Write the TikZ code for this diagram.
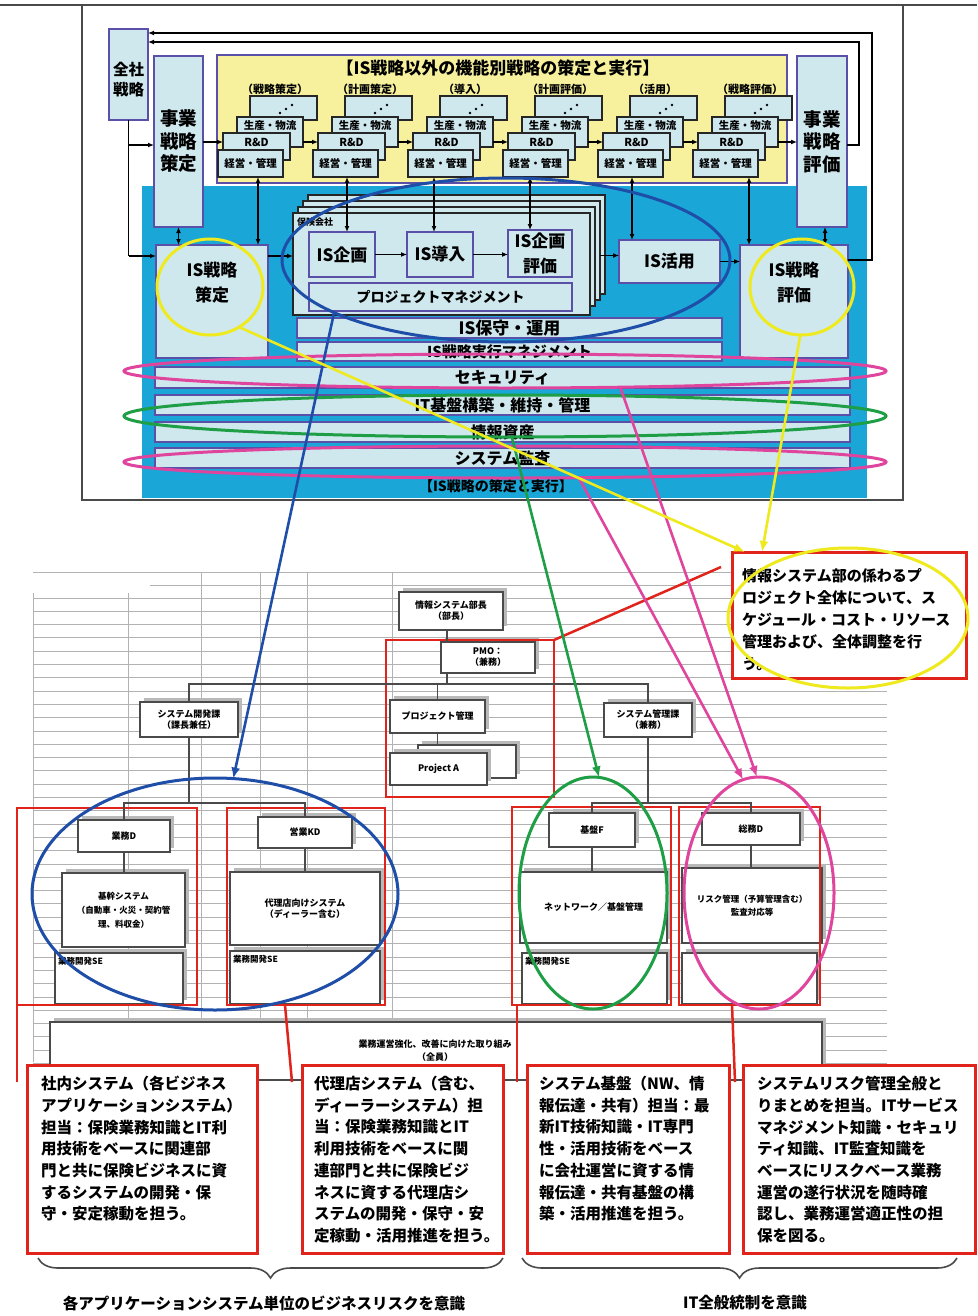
\documentclass[tikz,border=0pt]{standalone}
\usepackage{fontspec}
\setmainfont{Noto Sans CJK JP}
\usetikzlibrary{arrows.meta,shapes.geometric,shadows,decorations.pathreplacing}
\definecolor{lb}{HTML}{CFE8EE}
\definecolor{pu}{HTML}{5B50A8}
\definecolor{ye}{HTML}{F7F19E}
\definecolor{cy}{HTML}{1AA6D6}
\definecolor{bl}{HTML}{1F4EA8}
\definecolor{yl}{HTML}{EEEA1E}
\definecolor{mg}{HTML}{E0459E}
\definecolor{gr}{HTML}{1E9E45}
\definecolor{rd}{HTML}{E0241C}
\definecolor{gd}{HTML}{4A4A4A}
\newcommand{\myfs}[2]{\fontsize{#1}{#2}\selectfont}
\newcommand{\bx}[7]{\node[#1,minimum width={((#5)-(#3))*1pt},minimum height={((#6)-(#4))*1pt}] (#2) at ({((#3)+(#5))/2},{((#4)+(#6))/2}) {#7};}
\tikzset{
 base/.style={rectangle,inner sep=0pt,outer sep=0pt},
 tb/.style={base,fill=lb,draw=pu,line width=1.5pt,font=\bfseries},
 stk/.style={base,fill=lb,draw=black!85,line width=1.6pt},
 card/.style={base,fill=lb,draw=black!85,line width=1.4pt},
 strip/.style={base,fill=lb,draw=pu,line width=1.2pt},
 obox/.style={base,fill=white,draw=gd,line width=1.3pt,align=center,font=\bfseries\myfs{9}{11},drop shadow={shadow xshift=4pt,shadow yshift=4pt,fill=gray!55,opacity=1}},
 rgrp/.style={base,draw=rd,line width=2.5pt},
 tbox/.style={base,fill=white,draw=rd,line width=3pt},
 conn/.style={draw=black,line width=1.6pt},
 arr/.style={conn,-{Latex[length=6pt,width=5pt]}},
 darr/.style={conn,{Latex[length=6pt,width=5pt]}-{Latex[length=6pt,width=5pt]}},
 ell/.style={ellipse,draw,inner sep=0pt,outer sep=0pt,line width=3pt},
 org/.style={draw=gd,line width=1.3pt},
 gridl/.style={draw=gray!60,line width=1pt},
 txt/.style={inner sep=0pt,font=\bfseries},
 carr/.style={line width=2.6pt,-{Latex[length=11pt,width=9pt]}},
 redl/.style={draw=rd,line width=2.5pt}
}
\begin{document}
\begin{tikzpicture}[x=1pt,y=-1pt]
\useasboundingbox (0,0) rectangle (977,1316);
\fill[white] (0,0) rectangle (977,1316);
% ---------- top frame ----------
\draw[gd,line width=2pt] (0,5) -- (977,5);
\bx{base,draw=gd,line width=2.2pt}{frame}{82}{5}{903}{500}{}
\bx{base,fill=cy}{cyanarea}{142}{186}{867}{498}{}
\bx{base,fill=ye,draw=pu,line width=1.2pt}{yelarea}{217}{55}{787}{183}{}
\node[txt,font=\bfseries\myfs{17}{20}] (ytitle) at (498,68) {【IS戦略以外の機能別戦略の策定と実行】};
\bx{tb}{zensha}{109}{29}{148}{120}{}
\node[txt,align=center,font=\bfseries\myfs{15.5}{20}] (zenshat) at (128.5,80) {全社\\戦略};
\bx{tb,align=center,font=\bfseries\myfs{18.5}{22.5}}{jplan}{154}{56}{203}{227}{事業\\戦略\\策定}
\bx{tb,align=center,font=\bfseries\myfs{18.5}{22.5}}{jeval}{797}{56}{847}{227}{事業\\戦略\\評価}
% stacks
\foreach \i/\X/\lab in {1/218/（戦略策定）,2/313/（計画策定）,3/408/（導入）,4/503/（計画評価）,5/598/（活用）,6/693/（戦略評価）}{
  \node[txt,font=\bfseries\myfs{11}{13}] (lab\i) at (\X+57,89) {\lab};
  \bx{stk}{t\i}{\X+32}{96}{\X+99}{120}{}
  \fill (\X+62,113) circle (1.4) (\X+68,109) circle (1.4) (\X+74,105) circle (1.4);
  \bx{stk}{p\i}{\X+19}{117}{\X+85}{147}{}
  \node[txt,font=\bfseries\myfs{10.5}{12}] (pt\i) at (\X+52,126) {生産・物流};
  \bx{stk}{r\i}{\X+5}{133}{\X+72}{160}{}
  \node[txt,font=\bfseries\myfs{11}{12}] (rt\i) at (\X+38.5,142) {R\&D};
  \bx{stk}{k\i}{\X}{150}{\X+65}{177}{}
  \node[txt,font=\bfseries\myfs{10.5}{12}] (kt\i) at (\X+32.5,163) {経営・管理};
}
% project cards
\bx{card}{cardC}{308}{195}{605}{294}{}
\bx{card}{cardB}{303}{201}{600}{300}{}
\bx{card}{cardA}{298}{207}{595}{306}{}
\bx{card}{cardF}{293}{213}{590}{315}{}
\node[txt,anchor=west,font=\bfseries\myfs{9}{10}] (hoken) at (297,222) {保険会社};
\bx{tb,font=\bfseries\myfs{17}{20}}{kikaku}{309}{232}{375}{277}{IS企画}
\bx{tb,font=\bfseries\myfs{17}{20}}{donyu}{407}{232}{473}{277}{IS導入}
\bx{tb,align=center,font=\bfseries\myfs{17}{25}}{hyoka}{508}{230}{572}{277}{IS企画\\評価}
\bx{tb,font=\bfseries\myfs{14}{16}}{pm}{309}{283}{572}{311}{プロジェクトマネジメント}
\bx{tb,font=\bfseries\myfs{17}{20}}{katsuyo}{619}{240}{720}{283}{IS活用}
\bx{tb}{isplan}{156}{245}{268}{358}{}
\node[txt,align=center,font=\bfseries\myfs{17}{25}] (isplant) at (212,283) {IS戦略\\策定};
\bx{tb}{iseval}{740}{245}{848}{358}{}
\node[txt,align=center,font=\bfseries\myfs{17}{25}] (isevalt) at (794,283) {IS戦略\\評価};
% strips
\bx{strip,font=\bfseries\myfs{17}{20}}{hoshu}{297}{318}{722}{338}{IS保守・運用}
\bx{strip,font=\bfseries\myfs{15}{18}}{jikko}{297}{342}{722}{361}{IS戦略実行マネジメント}
\bx{strip,font=\bfseries\myfs{16}{18}}{secu}{155}{367}{850}{388}{セキュリティ}
\bx{strip,font=\bfseries\myfs{16}{18}}{itkiban}{155}{395}{850}{415}{IT基盤構築・維持・管理}
\bx{strip,font=\bfseries\myfs{16}{18}}{shisan}{155}{422}{850}{442}{情報資産}
\bx{strip,font=\bfseries\myfs{16}{18}}{kansa}{155}{448}{850}{468}{システム監査}
\node[txt,font=\bfseries\myfs{14}{16}] (istitle) at (496,486) {【IS戦略の策定と実行】};
% top connectors
\draw[arr] ([yshift=-15pt]iseval.north east) -- ++(24,0) |- ([yshift=-4pt]zensha.north east);
\draw[arr] ([yshift=-89pt]jeval.north east) -- ++(12,0) |- ([yshift=-13pt]zensha.north east);
\coordinate (jin) at ([yshift=-89pt]jplan.north west);
\coordinate (iin) at ([yshift=-11pt]isplan.north west);
\draw[conn] (zensha.south) -- (zensha.south |- iin);
\draw[arr] (zensha.south |- jin) -- (jin);
\draw[arr] (zensha.south |- iin) -- (iin);
\coordinate (r1in) at ([yshift=-9pt]r1.north west);
\draw[arr] (jplan.east |- r1in) -- (r1in);
\foreach \i/\j in {1/2,2/3,3/4,4/5,5/6}{
  \draw[arr] ([yshift=-25pt]p\i.north east) -- ([yshift=-9pt]r\j.north west);
}
\coordinate (p6out) at ([yshift=-25pt]p6.north east);
\draw[arr] (p6out) -- (jeval.west |- p6out);
\foreach \i/\dx/\tg in {1/7.5/isplan,2/1.5/kikaku,3/-6.5/donyu,4/-5.5/hyoka,5/1.5/katsuyo,6/23.5/iseval}{
  \draw[darr] ([xshift=\dx pt]k\i.south) -- ([xshift=\dx pt]k\i.south |- \tg.north);
}
\draw[darr] (jplan.south) -- (jplan.south |- isplan.north);
\draw[darr] ([xshift=3pt]jeval.south) -- ([xshift=3pt]jeval.south |- iseval.north);
\draw[arr] (iin -| isplan.east) -- (iin -| cardF.west);
\draw[arr] (kikaku.east) -- (donyu.west);
\draw[arr] (donyu.east) -- (donyu.east -| hyoka.west);
\coordinate (kin) at ([yshift=6pt]katsuyo.west);
\draw[arr] (kin -| cardB.east) -- (kin);
\draw[arr] (katsuyo.east) -- (katsuyo.east -| iseval.west);
% ---------- org chart grid ----------
\draw[gridl] (33,572) -- (887,572);
\draw[gridl] (150,585) -- (887,585);
\foreach \k in {0,...,35}{\draw[gridl] (33,{598+13.3*\k}) -- (887,{598+13.3*\k});}
\foreach \x in {33,128}{\draw[gridl] (\x,593) -- (\x,1062);}
\foreach \x in {201,260,307,392}{\draw[gridl] (\x,572) -- (\x,1062);}
% org boxes
\bx{obox}{bucho}{399}{592}{503}{630}{情報システム部長\\（部長）}
\bx{obox}{pmo}{441}{642}{535}{673}{PMO：\\（兼務）}
\bx{obox}{pjk}{390}{700}{485}{733}{プロジェクト管理}
\bx{obox}{pjAb}{418}{745}{516}{778}{}
\bx{obox}{pjA}{390}{753}{487}{785}{Project A}
\bx{obox}{kaihatsu}{140}{702}{238}{737}{システム開発課\\（課長兼任）}
\bx{obox}{kanri}{604}{703}{692}{737}{システム管理課\\（兼務）}
\bx{obox}{gyomu}{78}{820}{170}{852}{業務D}
\bx{obox,font=\bfseries\myfs{8.5}{14}}{kikan}{62}{873}{185}{947}{基幹システム\\（自動車・火災・契約管\\理、料収金）}
\bx{obox}{se1}{55}{953}{183}{1004}{}
\bx{obox}{eigyo}{258}{817}{352}{848}{営業KD}
\bx{obox}{dairi}{230}{872}{380}{945}{代理店向けシステム\\（ディーラー含む）}
\bx{obox}{se2}{230}{951}{380}{1004}{}
\bx{obox}{kiban}{549}{813}{635}{847}{基盤F}
\bx{obox}{network}{520}{872}{667}{943}{ネットワーク／基盤管理}
\bx{obox}{se3}{522}{953}{667}{1004}{}
\bx{obox}{somu}{702}{813}{800}{845}{総務D}
\bx{obox,font=\bfseries\myfs{8.5}{13}}{risk}{682}{868}{822}{943}{リスク管理（予算管理含む）\\監査対応等}
\bx{obox}{se4}{682}{953}{817}{1004}{}
\foreach \s in {se1,se2,se3}{
  \node[txt,anchor=north west,font=\bfseries\myfs{8.5}{10}] (\s t) at ([xshift=3pt,yshift=-4pt]\s.north west) {業務開発SE};
}
% red groups
\bx{rgrp}{pmoR}{386}{640}{554}{797}{}
\bx{rgrp}{rg1}{17}{808}{197}{1005}{}
\bx{rgrp}{rg2}{227}{808}{385}{1005}{}
\bx{rgrp}{rg3}{512}{807}{671}{1005}{}
\bx{rgrp}{rg4}{679}{807}{820}{1005}{}
% org connectors
\coordinate (bar1) at (0,684);
\coordinate (bar2) at (0,803);
\draw[org] ([xshift=6pt]pmo.north west |- bucho.south) -- ([xshift=6pt]pmo.north west);
\draw[org] ([xshift=6pt]pmo.south west) -- ([xshift=6pt]pmo.south west |- bar1);
\draw[org] (kaihatsu.north) -- (kaihatsu.north |- bar1) -- (kanri.north |- bar1) -- (kanri.north);
\draw[org] (pjk.north) -- (pjk.north |- bar1);
\draw[org] (pjk.south) -- (pjk.south |- pjAb.north);
\draw[org] (kaihatsu.south) -- (kaihatsu.south |- bar2);
\draw[org] (gyomu.north) -- (gyomu.north |- bar2) -- (eigyo.north |- bar2) -- (eigyo.north);
\draw[org] (gyomu.south) -- (kikan.north -| gyomu.south);
\draw[org] (eigyo.south) -- (dairi.north -| eigyo.south);
\draw[org] (kanri.south) -- (kanri.south |- bar2);
\draw[org] (kiban.north) -- (kiban.north |- bar2) -- (somu.north |- bar2) -- (somu.north);
\draw[org] (kiban.south) -- (network.north -| kiban.south);
\draw[org] (somu.south) -- (risk.north -| somu.south);
% wide box
\bx{obox}{wbox}{50}{1022}{822}{1080}{}
\node[txt,align=center,font=\bfseries\myfs{9}{13}] (wboxt) at (435,1051) {業務運営強化、改善に向けた取り組み\\（全員）};
% bottom text boxes
\bx{tbox}{tb1}{27}{1065}{257}{1253}{}
\bx{tbox}{tb2}{302}{1065}{503}{1253}{}
\bx{tbox}{tb3}{527}{1065}{729}{1253}{}
\bx{tbox}{tb4}{743}{1065}{975}{1253}{}
\draw[redl] (rg1.south west) -- ([yshift=-17pt]rg1.south west |- tb1.north);
\draw[redl] ([xshift=58pt]rg2.south west) -- ([xshift=-10pt,yshift=-17pt]tb2.north west);
\draw[redl] ([xshift=5pt]rg3.south west) -- ([xshift=-10pt,yshift=-17pt]tb3.north west);
\draw[redl] ([xshift=53pt]rg4.south west) -- ([xshift=-8pt,yshift=-17pt]tb4.north west);
\node[txt,anchor=north west,align=left,font=\bfseries\myfs{15.5}{21.7}] (tb1t) at ([xshift=14pt,yshift=-11pt]tb1.north west) {社内システム（各ビジネス\\アプリケーションシステム）\\担当：保険業務知識とIT利\\用技術をベースに関連部\\門と共に保険ビジネスに資\\するシステムの開発・保\\守・安定稼動を担う。};
\node[txt,anchor=north west,align=left,font=\bfseries\myfs{15.5}{21.7}] (tb2t) at ([xshift=12pt,yshift=-11pt]tb2.north west) {代理店システム（含む、\\ディーラーシステム）担\\当：保険業務知識とIT\\利用技術をベースに関\\連部門と共に保険ビジ\\ネスに資する代理店シ\\ステムの開発・保守・安\\定稼動・活用推進を担う。};
\node[txt,anchor=north west,align=left,font=\bfseries\myfs{15.5}{21.7}] (tb3t) at ([xshift=12pt,yshift=-11pt]tb3.north west) {システム基盤（NW、情\\報伝達・共有）担当：最\\新IT技術知識・IT専門\\性・活用技術をベース\\に会社運営に資する情\\報伝達・共有基盤の構\\築・活用推進を担う。};
\node[txt,anchor=north west,align=left,font=\bfseries\myfs{15.5}{21.7}] (tb4t) at ([xshift=14pt,yshift=-11pt]tb4.north west) {システムリスク管理全般と\\りまとめを担当。ITサービス\\マネジメント知識・セキュリ\\ティ知識、IT監査知識を\\ベースにリスクベース業務\\運営の遂行状況を随時確\\認し、業務運営適正性の担\\保を図る。};
% braces and labels
\draw[gd,line width=1.6pt,decorate,decoration={brace,amplitude=20pt}] (503,1258) -- (38,1258);
\draw[gd,line width=1.6pt,decorate,decoration={brace,amplitude=20pt}] (957,1258) -- (522,1258);
\node[txt,font=\bfseries\myfs{15.5}{18}] (blab1) at (264,1303) {各アプリケーションシステム単位のビジネスリスクを意識};
\node[txt,font=\bfseries\myfs{15.5}{18}] (blab2) at (745,1303) {IT全般統制を意識};
% right text box
\bx{tbox}{rtb}{732}{552}{966}{678}{}
\node[txt,anchor=north west,align=left,font=\bfseries\myfs{15}{22}] (rtbt) at ([xshift=10pt,yshift=-16pt]rtb.north west) {情報システム部の係わるプ\\ロジェクト全体について、ス\\ケジュール・コスト・リソース\\管理および、全体調整を行\\う。};
\draw[redl] ([xshift=-11pt,yshift=-15pt]rtb.north west) -- (pmoR.north east);
% ellipses
\node[ell,draw=bl,minimum width=448pt,minimum height=164pt] (bE) at (506,260) {};
\node[ell,draw=yl,minimum width=106pt,minimum height=96pt] (yL) at (210,287) {};
\node[ell,draw=yl,minimum width=104pt,minimum height=96pt] (yR) at (802,287) {};
\node[ell,draw=mg,minimum width=762pt,minimum height=34pt] (mE1) at (505,371) {};
\node[ell,draw=gr,minimum width=762pt,minimum height=42pt] (gE) at (505,416) {};
\node[ell,draw=mg,minimum width=762pt,minimum height=32pt] (mE2) at (505,462) {};
\node[ell,draw=bl,minimum width=366pt,minimum height=232pt] (bE2) at (215,894) {};
\node[ell,draw=gr,minimum width=148pt,minimum height=232pt] (gE2) at (593,893) {};
\node[ell,draw=mg,minimum width=150pt,minimum height=232pt] (mE3) at (759,893) {};
\node[ell,draw=yl,minimum width=240pt,minimum height=140pt] (yE) at (848,618) {};
% colored connectors
\draw[carr,bl] (bE.197) -- (bE2.81);
\draw[carr,gr] (gE.288) -- (gE2.87);
\draw[carr,mg] (mE1.352) -- (mE3.91);
\draw[carr,mg] (mE2.348) -- (mE3.98);
\draw[carr,yl] (yL.306) -- ([xshift=13pt]rtb.north west);
\draw[carr,yl] (yR.268) -- ([xshift=30pt]rtb.north west);
\end{tikzpicture}
\end{document}
